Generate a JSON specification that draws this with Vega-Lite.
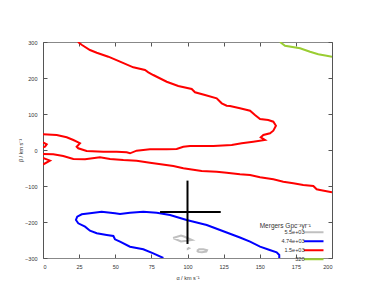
{
  "$schema": "https://vega.github.io/schema/vega-lite/v6.json",
  "width": 289,
  "height": 216,
  "autosize": {"type": "none"},
  "padding": {"left": 43, "top": 42, "right": 43, "bottom": 42},
  "background": "white",
  "config": {
    "view": {"stroke": null},
    "font": "Liberation Sans",
    "axis": {
      "domainColor": "#555",
      "domainWidth": 1,
      "tickColor": "#555",
      "tickSize": -4,
      "grid": false,
      "labelFont": "Liberation Sans",
      "labelFontSize": 5.5,
      "labelColor": "#333",
      "titleFont": "Liberation Sans",
      "titleFontSize": 5.5,
      "titleFontWeight": "normal",
      "titleColor": "#333"
    },
    "legend": {
      "labelFont": "Liberation Sans",
      "titleFont": "Liberation Sans"
    }
  },
  "datasets": {
    "contours": [
      {"s":"r1","l":"1.5e+03","i":0,"a":0,"b":43.6},
      {"s":"r1","l":"1.5e+03","i":1,"a":9.5,"b":41.7},
      {"s":"r1","l":"1.5e+03","i":2,"a":16.4,"b":35.3},
      {"s":"r1","l":"1.5e+03","i":3,"a":21,"b":27.8},
      {"s":"r1","l":"1.5e+03","i":4,"a":24.4,"b":21.4},
      {"s":"r1","l":"1.5e+03","i":5,"a":25.6,"b":18.6},
      {"s":"r1","l":"1.5e+03","i":6,"a":23.3,"b":9.2},
      {"s":"r1","l":"1.5e+03","i":7,"a":24.4,"b":4.7},
      {"s":"r1","l":"1.5e+03","i":8,"a":30.2,"b":-2.8},
      {"s":"r1","l":"1.5e+03","i":9,"a":41.7,"b":-4.7},
      {"s":"r1","l":"1.5e+03","i":10,"a":51,"b":-4.7},
      {"s":"r1","l":"1.5e+03","i":11,"a":57.9,"b":-6.4},
      {"s":"r1","l":"1.5e+03","i":12,"a":60.2,"b":-9.2},
      {"s":"r1","l":"1.5e+03","i":13,"a":64.8,"b":-1.9},
      {"s":"r1","l":"1.5e+03","i":14,"a":74,"b":1.9},
      {"s":"r1","l":"1.5e+03","i":15,"a":85.6,"b":1.9},
      {"s":"r1","l":"1.5e+03","i":16,"a":92.5,"b":2.8},
      {"s":"r1","l":"1.5e+03","i":17,"a":97.1,"b":9.2},
      {"s":"r1","l":"1.5e+03","i":18,"a":101.7,"b":11.1},
      {"s":"r1","l":"1.5e+03","i":19,"a":117.9,"b":11.1},
      {"s":"r1","l":"1.5e+03","i":20,"a":130.6,"b":13.9},
      {"s":"r1","l":"1.5e+03","i":21,"a":137.5,"b":18.6},
      {"s":"r1","l":"1.5e+03","i":22,"a":145.5,"b":23.1},
      {"s":"r1","l":"1.5e+03","i":23,"a":153.6,"b":27.8},
      {"s":"r1","l":"1.5e+03","i":24,"a":150.7,"b":35.3},
      {"s":"r1","l":"1.5e+03","i":25,"a":152.5,"b":41.7},
      {"s":"r1","l":"1.5e+03","i":26,"a":157.1,"b":46.4},
      {"s":"r1","l":"1.5e+03","i":27,"a":159.4,"b":53.6},
      {"s":"r1","l":"1.5e+03","i":28,"a":161.2,"b":67.5},
      {"s":"r1","l":"1.5e+03","i":29,"a":159.4,"b":78.6},
      {"s":"r1","l":"1.5e+03","i":30,"a":155.9,"b":83.3},
      {"s":"r1","l":"1.5e+03","i":31,"a":150.2,"b":86.1},
      {"s":"r1","l":"1.5e+03","i":32,"a":146.7,"b":97.2},
      {"s":"r1","l":"1.5e+03","i":33,"a":143.3,"b":109.2},
      {"s":"r1","l":"1.5e+03","i":34,"a":136.3,"b":115.8},
      {"s":"r1","l":"1.5e+03","i":35,"a":129.4,"b":122.2},
      {"s":"r1","l":"1.5e+03","i":36,"a":127.1,"b":123.1},
      {"s":"r1","l":"1.5e+03","i":37,"a":123.7,"b":129.7},
      {"s":"r1","l":"1.5e+03","i":38,"a":120.2,"b":143.6},
      {"s":"r1","l":"1.5e+03","i":39,"a":112.1,"b":152.8},
      {"s":"r1","l":"1.5e+03","i":40,"a":105.2,"b":160.3},
      {"s":"r1","l":"1.5e+03","i":41,"a":102.9,"b":169.4},
      {"s":"r1","l":"1.5e+03","i":42,"a":93.6,"b":177.8},
      {"s":"r1","l":"1.5e+03","i":43,"a":85.6,"b":189.7},
      {"s":"r1","l":"1.5e+03","i":44,"a":76.3,"b":208.3},
      {"s":"r1","l":"1.5e+03","i":45,"a":72.9,"b":215.8},
      {"s":"r1","l":"1.5e+03","i":46,"a":70.6,"b":222.2},
      {"s":"r1","l":"1.5e+03","i":47,"a":62.5,"b":229.7},
      {"s":"r1","l":"1.5e+03","i":48,"a":53.3,"b":245.3},
      {"s":"r1","l":"1.5e+03","i":49,"a":45.2,"b":259.2},
      {"s":"r1","l":"1.5e+03","i":50,"a":37.2,"b":270.3},
      {"s":"r1","l":"1.5e+03","i":51,"a":32.5,"b":277.8},
      {"s":"r1","l":"1.5e+03","i":52,"a":27,"b":291.7},
      {"s":"r1","l":"1.5e+03","i":53,"a":24.2,"b":300},
      {"s":"r2","l":"1.5e+03","i":0,"a":0,"b":-11},
      {"s":"r2","l":"1.5e+03","i":1,"a":7.1,"b":-11.9},
      {"s":"r2","l":"1.5e+03","i":2,"a":14,"b":-16.7},
      {"s":"r2","l":"1.5e+03","i":3,"a":21,"b":-25},
      {"s":"r2","l":"1.5e+03","i":4,"a":29.1,"b":-25.8},
      {"s":"r2","l":"1.5e+03","i":5,"a":39.4,"b":-20.3},
      {"s":"r2","l":"1.5e+03","i":6,"a":46.4,"b":-25},
      {"s":"r2","l":"1.5e+03","i":7,"a":55.6,"b":-27.8},
      {"s":"r2","l":"1.5e+03","i":8,"a":64.8,"b":-29.7},
      {"s":"r2","l":"1.5e+03","i":9,"a":74,"b":-35.3},
      {"s":"r2","l":"1.5e+03","i":10,"a":90.2,"b":-44.4},
      {"s":"r2","l":"1.5e+03","i":11,"a":97.1,"b":-50.8},
      {"s":"r2","l":"1.5e+03","i":12,"a":109.8,"b":-58.3},
      {"s":"r2","l":"1.5e+03","i":13,"a":120.2,"b":-60.3},
      {"s":"r2","l":"1.5e+03","i":14,"a":127.1,"b":-63},
      {"s":"r2","l":"1.5e+03","i":15,"a":136.3,"b":-67.5},
      {"s":"r2","l":"1.5e+03","i":16,"a":143.3,"b":-69.4},
      {"s":"r2","l":"1.5e+03","i":17,"a":150.2,"b":-75.8},
      {"s":"r2","l":"1.5e+03","i":18,"a":159.4,"b":-81.4},
      {"s":"r2","l":"1.5e+03","i":19,"a":166.3,"b":-88},
      {"s":"r2","l":"1.5e+03","i":20,"a":173.2,"b":-92.5},
      {"s":"r2","l":"1.5e+03","i":21,"a":180.1,"b":-97.2},
      {"s":"r2","l":"1.5e+03","i":22,"a":187.1,"b":-100},
      {"s":"r2","l":"1.5e+03","i":23,"a":189.4,"b":-109.2},
      {"s":"r2","l":"1.5e+03","i":24,"a":191.7,"b":-111.1},
      {"s":"r2","l":"1.5e+03","i":25,"a":200,"b":-117.5},
      {"s":"r3","l":"1.5e+03","i":0,"a":0,"b":21.4},
      {"s":"r3","l":"1.5e+03","i":1,"a":2.6,"b":15.8},
      {"s":"r3","l":"1.5e+03","i":2,"a":1.4,"b":9.2},
      {"s":"r3","l":"1.5e+03","i":3,"a":0,"b":7.5},
      {"s":"r4","l":"1.5e+03","i":0,"a":0,"b":-22.2},
      {"s":"r4","l":"1.5e+03","i":1,"a":4.8,"b":-29.7},
      {"s":"r4","l":"1.5e+03","i":2,"a":0,"b":-40.3},
      {"s":"b1","l":"4.74e+03","i":0,"a":83.3,"b":-300},
      {"s":"b1","l":"4.74e+03","i":1,"a":76.3,"b":-287},
      {"s":"b1","l":"4.74e+03","i":2,"a":69.4,"b":-275.8},
      {"s":"b1","l":"4.74e+03","i":3,"a":60.2,"b":-268.6},
      {"s":"b1","l":"4.74e+03","i":4,"a":53.3,"b":-254.7},
      {"s":"b1","l":"4.74e+03","i":5,"a":49.8,"b":-248},
      {"s":"b1","l":"4.74e+03","i":6,"a":48.7,"b":-238.9},
      {"s":"b1","l":"4.74e+03","i":7,"a":44.1,"b":-236.1},
      {"s":"b1","l":"4.74e+03","i":8,"a":37.2,"b":-231.4},
      {"s":"b1","l":"4.74e+03","i":9,"a":32.5,"b":-224.2},
      {"s":"b1","l":"4.74e+03","i":10,"a":29.1,"b":-213},
      {"s":"b1","l":"4.74e+03","i":11,"a":24.4,"b":-203.6},
      {"s":"b1","l":"4.74e+03","i":12,"a":22.8,"b":-194.4},
      {"s":"b1","l":"4.74e+03","i":13,"a":23.7,"b":-185.3},
      {"s":"b1","l":"4.74e+03","i":14,"a":26.8,"b":-178.6},
      {"s":"b1","l":"4.74e+03","i":15,"a":32.5,"b":-175.8},
      {"s":"b1","l":"4.74e+03","i":16,"a":40.6,"b":-171.4},
      {"s":"b1","l":"4.74e+03","i":17,"a":49.8,"b":-175.8},
      {"s":"b1","l":"4.74e+03","i":18,"a":53.3,"b":-177.8},
      {"s":"b1","l":"4.74e+03","i":19,"a":60.2,"b":-174.2},
      {"s":"b1","l":"4.74e+03","i":20,"a":69.4,"b":-171.4},
      {"s":"b1","l":"4.74e+03","i":21,"a":78.7,"b":-174.2},
      {"s":"b1","l":"4.74e+03","i":22,"a":87.9,"b":-180.6},
      {"s":"b1","l":"4.74e+03","i":23,"a":99.4,"b":-194.4},
      {"s":"b1","l":"4.74e+03","i":24,"a":113.3,"b":-208.3},
      {"s":"b1","l":"4.74e+03","i":25,"a":122.5,"b":-222.2},
      {"s":"b1","l":"4.74e+03","i":26,"a":131.7,"b":-236.1},
      {"s":"b1","l":"4.74e+03","i":27,"a":136.3,"b":-243},
      {"s":"b1","l":"4.74e+03","i":28,"a":143.3,"b":-254.7},
      {"s":"b1","l":"4.74e+03","i":29,"a":150.2,"b":-268.6},
      {"s":"b1","l":"4.74e+03","i":30,"a":156.9,"b":-277.8},
      {"s":"b1","l":"4.74e+03","i":31,"a":161.7,"b":-284.2},
      {"s":"b1","l":"4.74e+03","i":32,"a":163.5,"b":-291.7},
      {"s":"b1","l":"4.74e+03","i":33,"a":163.5,"b":-300},
      {"s":"g1","l":"320","i":0,"a":164,"b":300},
      {"s":"g1","l":"320","i":1,"a":167.5,"b":289.7},
      {"s":"g1","l":"320","i":2,"a":177.9,"b":282.5},
      {"s":"g1","l":"320","i":3,"a":184.8,"b":273},
      {"s":"g1","l":"320","i":4,"a":190.5,"b":265.8},
      {"s":"g1","l":"320","i":5,"a":196.3,"b":262},
      {"s":"g1","l":"320","i":6,"a":200,"b":259.2},
      {"s":"k1","l":"5.5e+03","i":0,"a":90,"b":-244.4},
      {"s":"k1","l":"5.5e+03","i":1,"a":95.5,"b":-237.5},
      {"s":"k1","l":"5.5e+03","i":2,"a":97.6,"b":-240.3},
      {"s":"k1","l":"5.5e+03","i":3,"a":103.1,"b":-250},
      {"s":"k1","l":"5.5e+03","i":4,"a":95.5,"b":-254.2},
      {"s":"k1","l":"5.5e+03","i":5,"a":90,"b":-244.4},
      {"s":"k2","l":"5.5e+03","i":0,"a":106.5,"b":-280},
      {"s":"k2","l":"5.5e+03","i":1,"a":108,"b":-276},
      {"s":"k2","l":"5.5e+03","i":2,"a":111,"b":-275.5},
      {"s":"k2","l":"5.5e+03","i":3,"a":113.5,"b":-278},
      {"s":"k2","l":"5.5e+03","i":4,"a":113,"b":-282},
      {"s":"k2","l":"5.5e+03","i":5,"a":110,"b":-284},
      {"s":"k2","l":"5.5e+03","i":6,"a":107.5,"b":-283},
      {"s":"k2","l":"5.5e+03","i":7,"a":106.5,"b":-280},
      {"s":"k3","l":"5.5e+03","i":0,"a":100.2,"b":-271.5},
      {"s":"k3","l":"5.5e+03","i":1,"a":101,"b":-273},
      {"s":"k3","l":"5.5e+03","i":2,"a":100.2,"b":-274.5},
      {"s":"k3","l":"5.5e+03","i":3,"a":100.2,"b":-271.5}
    ],
    "point": [
      {"a": 100, "b": -172, "a_lo": 81, "a_hi": 123, "b_lo": -261, "b_hi": -85}
    ]
  },
  "layer": [
    {
      "data": {"name": "contours"},
      "mark": {"type": "line", "strokeWidth": 2, "clip": true, "interpolate": "linear"},
      "encoding": {
        "x": {"field": "a", "type": "quantitative",
              "scale": {"domain": [0, 200], "nice": false, "zero": false},
              "axis": {"orient": "bottom", "domainColor": "#888", "values": [0,25,50,75,100,125,150,175,200], "title": "α / km s⁻¹", "labelPadding": 10, "titlePadding": 6}},
        "y": {"field": "b", "type": "quantitative",
              "scale": {"domain": [-300, 300], "nice": false, "zero": false},
              "axis": {"orient": "left", "values": [-300,-200,-100,0,100,200,300], "title": "β / km s⁻¹", "labelPadding": 10, "titlePadding": 1}},
        "color": {"field": "l", "type": "nominal",
                  "scale": {"domain": ["5.5e+03", "4.74e+03", "1.5e+03", "320"],
                            "range": ["#c0c0c0", "#0000ff", "#ff0000", "#9acd32"]},
                  "legend": {
                    "title": "Mergers Gpc⁻³yr⁻¹",
                    "orient": "none",
                    "legendX": 217,
                    "legendY": 181,
                    "symbolType": "M-6.5,0H6.5",
                    "symbolSize": 9,
                    "symbolStrokeWidth": 2,
                    "labelAlign": "right",
                    "labelOffset": -12,
                    "labelFontSize": 5.5,
                    "labelColor": "#333",
                    "titleFontSize": 6.5,
                    "titleFontWeight": "normal",
                    "titleColor": "#333",
                    "titleAlign": "right",
                    "titlePadding": 0,
                    "rowPadding": 0
                  }},
        "detail": {"field": "s", "type": "nominal"},
        "order": {"field": "i", "type": "quantitative"}
      }
    },
    {
      "data": {"name": "point"},
      "mark": {"type": "rule", "color": "black", "strokeWidth": 2},
      "encoding": {
        "x": {"field": "a", "type": "quantitative", "axis": {"orient": "top", "domainColor": "#888", "labels": false, "title": null, "values": [0,25,50,75,100,125,150,175,200]}},
        "y": {"field": "b_lo", "type": "quantitative", "axis": {"orient": "right", "labels": false, "title": null, "values": [-300,-200,-100,0,100,200,300]}},
        "y2": {"field": "b_hi"}
      }
    },
    {
      "data": {"name": "point"},
      "mark": {"type": "rule", "color": "black", "strokeWidth": 2},
      "encoding": {
        "x": {"field": "a_lo", "type": "quantitative", "axis": null},
        "x2": {"field": "a_hi"},
        "y": {"field": "b", "type": "quantitative", "axis": null}
      }
    }
  ],
  "resolve": {"axis": {"x": "independent", "y": "independent"}}
}
